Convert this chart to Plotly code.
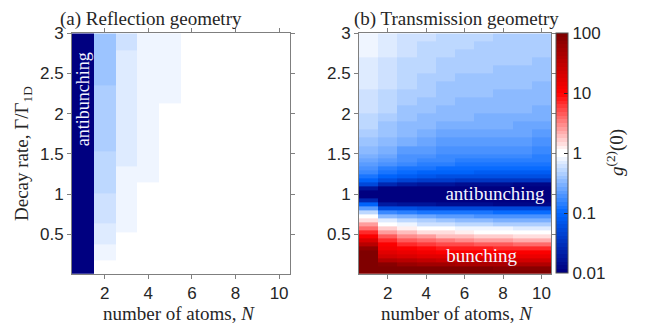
import plotly.graph_objects as go

# ---------------------------------------------------------------------------
# Data
# ---------------------------------------------------------------------------
atoms = [1, 2, 3, 4, 5, 6, 7, 8, 9, 10]

# (a) reflection geometry: band edges in Gamma/Gamma_1D (bottom -> top)
refl_edges = [0.0, 0.17, 0.37, 0.53, 0.63, 1.01, 1.15, 1.35, 1.53, 2.13, 2.35, 2.79, 3.0]
# log10 g2(0) per band, columns N = 1..10 (N = 1 is ideal antibunching, g2 -> 0)
refl_log10_g2 = [
    [-3, -0.02, -0.02, -0.02, -0.02, -0.02, -0.02, -0.02, -0.02, -0.02],
    [-3, -0.09, -0.02, -0.02, -0.02, -0.02, -0.02, -0.02, -0.02, -0.02],
    [-3, -0.16, -0.02, -0.02, -0.02, -0.02, -0.02, -0.02, -0.02, -0.02],
    [-3, -0.16, -0.09, -0.02, -0.02, -0.02, -0.02, -0.02, -0.02, -0.02],
    [-3, -0.22, -0.09, -0.02, -0.02, -0.02, -0.02, -0.02, -0.02, -0.02],
    [-3, -0.28, -0.09, -0.02, -0.02, -0.02, -0.02, -0.02, -0.02, -0.02],
    [-3, -0.28, -0.09, -0.09, -0.02, -0.02, -0.02, -0.02, -0.02, -0.02],
    [-3, -0.28, -0.16, -0.09, -0.02, -0.02, -0.02, -0.02, -0.02, -0.02],
    [-3, -0.34, -0.16, -0.09, -0.02, -0.02, -0.02, -0.02, -0.02, -0.02],
    [-3, -0.34, -0.16, -0.09, -0.09, -0.02, -0.02, -0.02, -0.02, -0.02],
    [-3, -0.41, -0.16, -0.09, -0.09, -0.02, -0.02, -0.02, -0.02, -0.02],
    [-3, -0.41, -0.22, -0.09, -0.09, -0.02, -0.02, -0.02, -0.02, -0.02],
]

# (b) transmission geometry: row edges in Gamma/Gamma_1D (top -> bottom)
trans_edges = [3.0, 2.9, 2.8, 2.7, 2.6, 2.5, 2.4, 2.3, 2.2, 2.1, 2.0, 1.9, 1.8, 1.7,
               1.6, 1.5, 1.45, 1.4, 1.35, 1.3, 1.25, 1.2, 1.15, 1.1, 1.05, 1.0,
               0.95, 0.9, 0.85, 0.8, 0.75, 0.7, 0.65, 0.6, 0.55, 0.5, 0.45, 0.4,
               0.35, 0.3, 0.25, 0.2, 0.15, 0.1, 0.05, 0.0]
# log10 g2(0) per row (top -> bottom), columns N = 1..10
trans_log10_g2 = [
    [-0.10, -0.15, -0.22, -0.25, -0.28, -0.30, -0.31, -0.32, -0.33, -0.34],
    [-0.11, -0.16, -0.23, -0.26, -0.29, -0.31, -0.32, -0.33, -0.34, -0.35],
    [-0.12, -0.17, -0.24, -0.28, -0.31, -0.33, -0.34, -0.35, -0.36, -0.37],
    [-0.14, -0.19, -0.26, -0.29, -0.32, -0.34, -0.35, -0.36, -0.37, -0.38],
    [-0.15, -0.20, -0.27, -0.31, -0.34, -0.36, -0.37, -0.38, -0.39, -0.40],
    [-0.16, -0.22, -0.29, -0.33, -0.36, -0.38, -0.39, -0.40, -0.41, -0.42],
    [-0.18, -0.24, -0.31, -0.35, -0.38, -0.40, -0.41, -0.42, -0.43, -0.44],
    [-0.20, -0.26, -0.33, -0.37, -0.40, -0.42, -0.43, -0.44, -0.45, -0.46],
    [-0.22, -0.28, -0.35, -0.39, -0.42, -0.44, -0.45, -0.46, -0.47, -0.48],
    [-0.24, -0.31, -0.38, -0.42, -0.45, -0.47, -0.48, -0.49, -0.50, -0.51],
    [-0.27, -0.34, -0.41, -0.45, -0.48, -0.50, -0.51, -0.52, -0.53, -0.54],
    [-0.30, -0.38, -0.45, -0.49, -0.52, -0.54, -0.55, -0.56, -0.57, -0.58],
    [-0.34, -0.43, -0.50, -0.54, -0.57, -0.59, -0.60, -0.61, -0.62, -0.63],
    [-0.39, -0.49, -0.56, -0.60, -0.63, -0.65, -0.66, -0.67, -0.68, -0.69],
    [-0.46, -0.56, -0.63, -0.67, -0.70, -0.72, -0.73, -0.74, -0.75, -0.76],
    [-0.52, -0.62, -0.69, -0.73, -0.76, -0.78, -0.79, -0.80, -0.81, -0.82],
    [-0.57, -0.67, -0.74, -0.78, -0.81, -0.83, -0.84, -0.85, -0.86, -0.87],
    [-0.63, -0.74, -0.81, -0.84, -0.87, -0.89, -0.90, -0.91, -0.92, -0.93],
    [-0.70, -0.82, -0.88, -0.92, -0.94, -0.96, -0.97, -0.98, -0.99, -1.00],
    [-0.79, -0.92, -0.98, -1.02, -1.04, -1.06, -1.07, -1.08, -1.09, -1.10],
    [-0.90, -1.05, -1.12, -1.16, -1.19, -1.21, -1.22, -1.23, -1.24, -1.25],
    [-1.05, -1.25, -1.34, -1.39, -1.42, -1.45, -1.46, -1.48, -1.49, -1.50],
    [-1.28, -1.60, -1.71, -1.77, -1.80, -1.83, -1.86, -1.87, -1.89, -1.90],
    [-1.80, -2.10, -2.17, -2.21, -2.24, -2.26, -2.27, -2.28, -2.29, -2.30],
    [-2.50, -2.50, -2.50, -2.50, -2.50, -2.50, -2.50, -2.50, -2.50, -2.50],
    [-2.50, -2.50, -2.50, -2.50, -2.50, -2.50, -2.50, -2.50, -2.50, -2.50],
    [-1.60, -2.10, -2.17, -2.21, -2.24, -2.26, -2.27, -2.28, -2.29, -2.30],
    [-1.05, -1.70, -1.77, -1.81, -1.84, -1.86, -1.87, -1.88, -1.89, -1.90],
    [-0.65, -1.20, -1.24, -1.26, -1.27, -1.28, -1.29, -1.29, -1.30, -1.30],
    [-0.30, -0.80, -0.85, -0.88, -0.90, -0.92, -0.93, -0.94, -0.94, -0.95],
    [-0.03, -0.45, -0.56, -0.62, -0.65, -0.68, -0.71, -0.72, -0.74, -0.75],
    [0.18, -0.15, -0.29, -0.37, -0.42, -0.46, -0.49, -0.51, -0.53, -0.55],
    [0.40, 0.00, -0.12, -0.19, -0.24, -0.27, -0.30, -0.32, -0.34, -0.35],
    [0.60, 0.20, 0.08, 0.01, -0.04, -0.07, -0.10, -0.12, -0.14, -0.15],
    [0.82, 0.40, 0.26, 0.18, 0.13, 0.09, 0.06, 0.04, 0.02, 0.00],
    [1.05, 0.65, 0.48, 0.38, 0.31, 0.26, 0.23, 0.20, 0.17, 0.15],
    [1.28, 0.85, 0.68, 0.58, 0.51, 0.46, 0.43, 0.40, 0.37, 0.35],
    [1.55, 1.00, 0.86, 0.78, 0.73, 0.69, 0.66, 0.64, 0.62, 0.60],
    [1.85, 1.10, 1.01, 0.96, 0.93, 0.91, 0.89, 0.87, 0.86, 0.85],
    [2.20, 1.20, 1.13, 1.09, 1.06, 1.04, 1.03, 1.02, 1.01, 1.00],
    [2.50, 1.35, 1.28, 1.24, 1.21, 1.19, 1.18, 1.17, 1.16, 1.15],
    [2.50, 1.60, 1.51, 1.46, 1.43, 1.41, 1.39, 1.37, 1.36, 1.35],
    [2.50, 1.90, 1.80, 1.74, 1.70, 1.67, 1.65, 1.63, 1.61, 1.60],
    [2.50, 2.20, 2.10, 2.04, 2.00, 1.97, 1.95, 1.93, 1.91, 1.90],
    [2.50, 2.50, 2.40, 2.34, 2.30, 2.27, 2.25, 2.23, 2.21, 2.20],
]

cbar_ticks = [-2, -1, 0, 1, 2]
cbar_labels = ["0.01", "0.1", "1", "10", "100"]
x_ticks = [2, 4, 6, 8, 10]
y_ticks = [0.5, 1, 1.5, 2, 2.5, 3]
y_labels = ["0.5", "1", "1.5", "2", "2.5", "3"]

# ---------------------------------------------------------------------------
# 64-step blue-white-red colour map on log10 g2 in [-2, 2]
# ---------------------------------------------------------------------------
def lerp(c1, c2, t):
    return tuple(int(round(a + (b - a) * t)) for a, b in zip(c1, c2))

navy, blue, white = (0, 0, 128), (0, 102, 255), (255, 255, 255)
red, dark_red = (255, 0, 0), (128, 0, 0)
steps = []
for i in range(32):
    t = i / 31
    steps.append(lerp(navy, blue, t / 0.5) if t <= 0.5 else lerp(blue, white, (t - 0.5) / 0.5))
for i in range(32):
    t = i / 31
    steps.append(lerp(white, red, t / 0.5) if t <= 0.5 else lerp(red, dark_red, (t - 0.5) / 0.5))
colorscale = []
for i, c in enumerate(steps):
    col = "rgb(%d,%d,%d)" % c
    colorscale.append([i / 64, col])
    colorscale.append([(i + 1) / 64, col])

# ---------------------------------------------------------------------------
# Figure
# ---------------------------------------------------------------------------
W, H = 646, 333
serif = "Liberation Serif"
sans = "Liberation Sans"
axis_col = "#7f7f7f"
text_col = "#262626"

def px_x(p):
    return p / W

def px_y(p):
    return 1 - p / H

fig = go.Figure()
fig.add_trace(go.Heatmap(x=atoms, y=refl_edges, z=refl_log10_g2,
                         coloraxis="coloraxis", xaxis="x", yaxis="y",
                         hoverinfo="skip"))
fig.add_trace(go.Heatmap(x=atoms, y=trans_edges[::-1], z=trans_log10_g2[::-1],
                         coloraxis="coloraxis", xaxis="x2", yaxis="y2",
                         hoverinfo="skip"))

# in-plot labels of panel (b), clipped at the plot border
fig.add_trace(go.Scatter(x=[5.0, 5.05], y=[0.99, 0.21], mode="text",
                         text=["antibunching", "bunching"],
                         textposition="middle right",
                         textfont=dict(family=serif, size=19, color="#f4f4ff"),
                         cliponaxis=True, showlegend=False, hoverinfo="skip",
                         xaxis="x2", yaxis="y2"))

y_dom = [px_y(272), px_y(25)]
tick_font = dict(family=sans, size=17, color=text_col)
common_x = dict(range=[0.5, 10.5], tickvals=x_ticks, ticks="outside", ticklen=4,
                tickcolor=axis_col, showline=True, linecolor=axis_col, linewidth=1,
                mirror="ticks", showgrid=False, zeroline=False, tickfont=tick_font)
common_y = dict(range=[0.01, 3], tickvals=y_ticks, ticktext=y_labels, ticks="outside",
                ticklen=4, tickcolor=axis_col, showline=True, linecolor=axis_col,
                linewidth=1, mirror="ticks", showgrid=False, zeroline=False,
                domain=y_dom, tickfont=tick_font)

fig.update_layout(
    width=W, height=H,
    margin=dict(l=0, r=0, t=0, b=0),
    paper_bgcolor="white", plot_bgcolor="white",
    showlegend=False,
    xaxis=dict(common_x, domain=[px_x(72), px_x(290)], anchor="y"),
    yaxis=dict(common_y, anchor="x"),
    xaxis2=dict(common_x, domain=[px_x(359), px_x(551)], anchor="y2"),
    yaxis2=dict(common_y, anchor="x2"),
    coloraxis=dict(
        colorscale=colorscale, cmin=-2, cmax=2,
        colorbar=dict(
            x=px_x(556), xanchor="left", y=px_y(25), yanchor="top",
            len=(272 - 25) / H, lenmode="fraction", thickness=12,
            thicknessmode="pixels", xpad=0, ypad=0,
            outlinewidth=1, outlinecolor="#555555",
            tickvals=cbar_ticks, ticktext=cbar_labels, ticks="inside",
            ticklen=4, tickcolor="#262626", tickfont=tick_font,
        ),
    ),
)

annotations = [
    dict(text="(a) Reflection geometry", x=px_x(151), y=px_y(10)),
    dict(text="(b) Transmission geometry", x=px_x(457), y=px_y(10)),
    dict(text="number of atoms, <i>N</i>", x=px_x(179), y=px_y(313)),
    dict(text="number of atoms, <i>N</i>", x=px_x(457), y=px_y(313)),
    dict(text="Decay rate, Γ/Γ<sub>1D</sub>", x=px_x(23), y=px_y(149), textangle=-90),
    dict(text="<i>g</i><sup>(2)</sup>(0)", x=px_x(615), y=px_y(148), textangle=-90),
]
for a in annotations:
    fig.add_annotation(xref="paper", yref="paper", showarrow=False,
                       xanchor="center", yanchor="middle",
                       font=dict(family=serif, size=19, color=text_col), **a)

# rotated label inside the N = 1 column of panel (a)
fig.add_annotation(xref="x", yref="y", x=1, y=2.18, text="antibunching",
                   textangle=-90, showarrow=False, xanchor="center", yanchor="middle",
                   font=dict(family=serif, size=18, color="#f4f4ff"))

fig.write_html("out.html")
